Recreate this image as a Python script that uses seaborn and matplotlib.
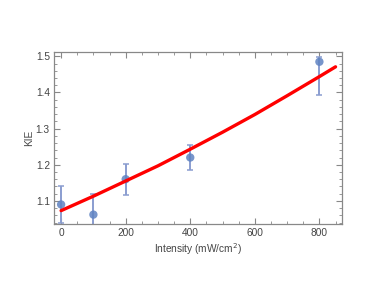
import numpy as np
import pandas as pd
import matplotlib
matplotlib.use("Agg")
import matplotlib.pyplot as plt
from matplotlib.ticker import MultipleLocator
import seaborn as sns

# measured KIE vs intensity
intensity = [0, 100, 200, 400, 800]
kie = [1.090, 1.062, 1.160, 1.220, 1.485]
err_low = [0.050, 0.056, 0.043, 0.035, 0.091]
err_high = [0.050, 0.056, 0.043, 0.035, 0.013]

# fitted curve
fit_x = [0, 100, 200, 300, 400, 500, 600, 700, 800, 850]
fit_y = [1.073, 1.113, 1.155, 1.197, 1.243, 1.290, 1.339, 1.391, 1.444, 1.471]

df = pd.DataFrame({"intensity": intensity, "kie": kie})
fit = pd.DataFrame({"x": fit_x, "y": fit_y})

sns.set_style("ticks")
plt.rcParams['font.family'] = ['Liberation Sans', 'DejaVu Sans']

fig = plt.figure(figsize=(3.82, 2.95), dpi=100)
ax = fig.add_axes([0.1414, 0.2407, 0.7539, 0.5830])

ax.errorbar(intensity, kie, yerr=[err_low, err_high], fmt='none',
            ecolor='#8a9dd0', elinewidth=1.4, capsize=2.5, capthick=1.1, zorder=2)
sns.scatterplot(data=df, x='intensity', y='kie', ax=ax, color='#5f83c2',
                s=36, edgecolor='none', alpha=0.85, zorder=3)
sns.lineplot(data=fit, x='x', y='y', ax=ax, color='#ff0000', lw=2.4, zorder=4)

ax.set_xlim(-22, 870)
ax.set_ylim(1.036, 1.512)
ax.xaxis.set_minor_locator(MultipleLocator(50))
ax.yaxis.set_minor_locator(MultipleLocator(0.02))
ax.set_xticks([0, 200, 400, 600, 800])
ax.set_xticklabels(['0', '200', '400', '600', '800'])
ax.set_yticks([1.1, 1.2, 1.3, 1.4, 1.5])
ax.set_yticklabels(['1.1', '1.2', '1.3', '1.4', '1.5'])

ax.tick_params(which='both', direction='in', top=True, right=True,
               color='#888888', labelsize=7.3, labelcolor='#444444', pad=3)
ax.tick_params(which='major', length=4, width=0.8)
ax.tick_params(which='minor', length=2, width=0.6)
for sp in ax.spines.values():
    sp.set_color('#888888')
    sp.set_linewidth(0.9)

ax.set_xlabel('Intensity (mW/cm$^2$)', fontsize=7.3, color='#444444', labelpad=2)
ax.set_ylabel('KIE', fontsize=7.3, color='#444444', labelpad=1)

fig.savefig('out.png', dpi=100)
